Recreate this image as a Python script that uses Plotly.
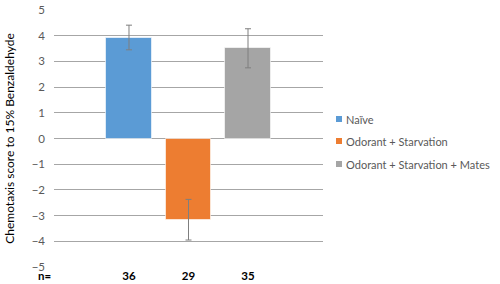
import plotly.graph_objects as go

groups = ["Naïve", "Odorant + Starvation", "Odorant + Starvation + Mates"]
scores = [3.93, -3.16, 3.51]
errors = [0.48, 0.79, 0.76]
n_counts = ["36", "29", "35"]
colors = ["#5B9BD5", "#ED7D31", "#A5A5A5"]
y_ticks = [5, 4, 3, 2, 1, 0, -1, -2, -3, -4, -5]

FONT = "Lato, Liberation Sans, sans-serif"

fig = go.Figure()
xs = list(range(len(groups)))
for i, g in enumerate(groups):
    fig.add_trace(go.Bar(
        x=[xs[i]], y=[scores[i]], name=g, width=0.77,
        marker=dict(color=colors[i], line=dict(color="rgba(255,255,255,0.6)", width=1)),
        error_y=dict(type="data", array=[errors[i]], visible=True,
                     color="#7f7f7f", thickness=1, width=3),
        showlegend=False,
    ))

fig.update_layout(
    width=500, height=284,
    margin=dict(l=54, r=177, t=10, b=17),
    paper_bgcolor="white", plot_bgcolor="white",
    font=dict(family=FONT, size=11, color="#595959"),
    xaxis=dict(range=[-1.26, 3.26], tickvals=xs,
               ticktext=["<b>%s</b>" % n for n in n_counts],
               showgrid=False, zeroline=False, showline=False, ticks="",
               automargin=False,
               tickfont=dict(size=11.5, color="black", family=FONT)),
    yaxis=dict(range=[-5, 5], tickvals=y_ticks, showgrid=True, gridcolor="#a6a6a6",
               gridwidth=1, zeroline=True, zerolinecolor="#a6a6a6", zerolinewidth=1,
               ticks="", ticklabelstandoff=8, automargin=False,
               tickfont=dict(size=11.5, color="#595959"),
               title=dict(text="Chemotaxis score to 15% Benzaldehyde",
                          font=dict(size=12, color="black"), standoff=14)),
    bargap=0,
)

# n= label
fig.add_annotation(x=0, y=0, xref="paper", yref="paper", text="<b>n=</b>",
                   showarrow=False, xanchor="right", yanchor="top", xshift=-1, yshift=0,
                   font=dict(size=11.5, color="black", family=FONT))

# legend (manual)
leg_x0 = (336 - 54) / 269
leg_rows = [119, 141, 164]
for i, g in enumerate(groups):
    yp = (267 - leg_rows[i]) / 257
    fig.add_shape(type="rect", xref="paper", yref="paper",
                  x0=leg_x0, x1=leg_x0 + 6 / 269, y0=yp - 3 / 257, y1=yp + 3 / 257,
                  fillcolor=colors[i], line=dict(width=0))
    fig.add_annotation(x=leg_x0 + 8 / 269, y=yp, xref="paper", yref="paper", text=g,
                       showarrow=False, xanchor="left", yanchor="middle",
                       font=dict(size=11, color="#595959"))

fig.write_html("out.html", config={"displayModeBar": False},
               post_script="document.body.style.margin='0';document.body.style.overflow='hidden';")
